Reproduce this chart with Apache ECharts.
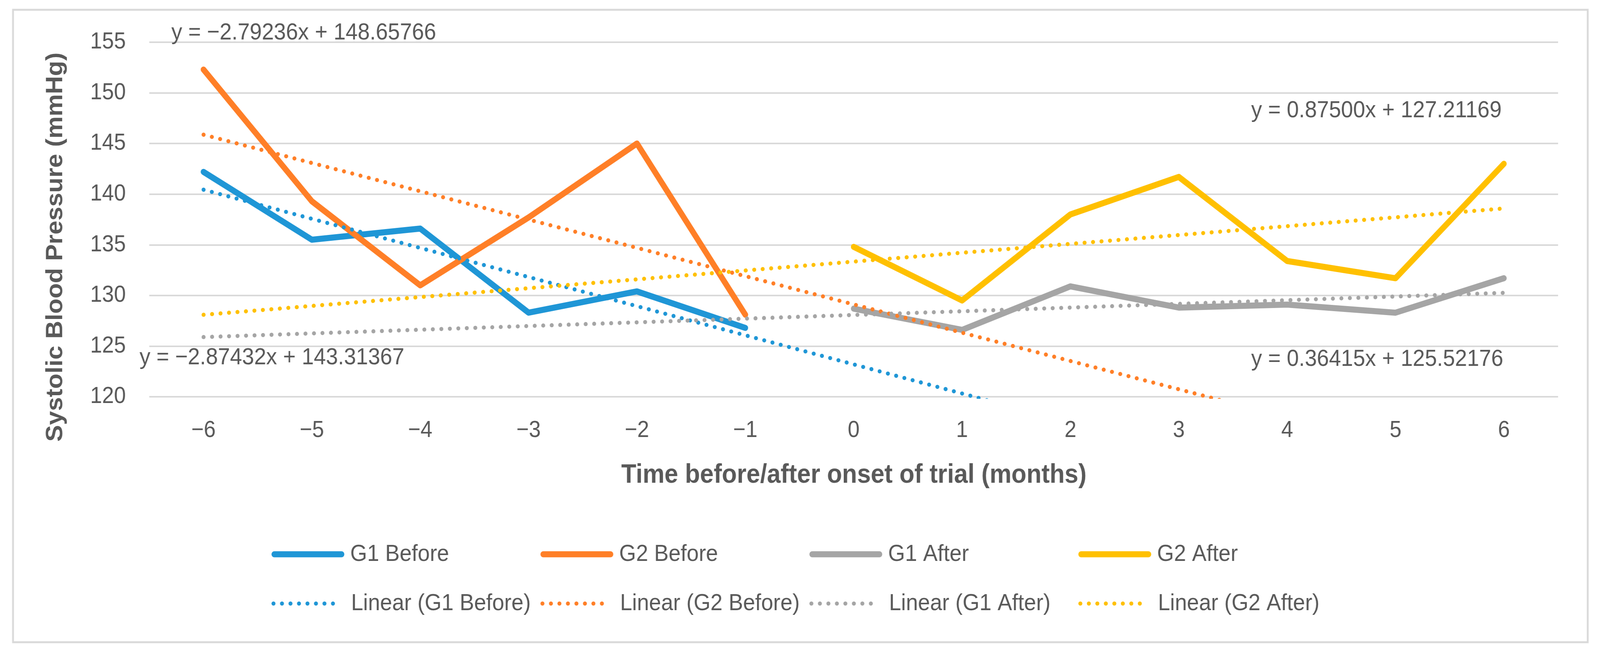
<!DOCTYPE html>
<html>
<head>
<meta charset="utf-8">
<script src="https://cdn.jsdelivr.net/npm/echarts@6/dist/echarts.min.js"></script>
<style>
html,body{margin:0;padding:0;background:#ffffff;overflow:hidden;}
#c{width:4426px;height:1668px;transform-origin:0 0;}
</style>
</head>
<body>
<div id="c"></div>
<script>
// ---- data ----
const months = ['−6','−5','−4','−3','−2','−1','0','1','2','3','4','5','6'];
const yTicks = [120, 125, 130, 135, 140, 145, 150, 155];
const seriesNames = ['G1 Before', 'G2 Before', 'G1 After', 'G2 After'];
const trendNames = ['Linear (G1 Before)', 'Linear (G2 Before)', 'Linear (G1 After)', 'Linear (G2 After)'];
const g1Before = [142.2, 135.5, 136.6, 128.3, 130.4, 126.8, null, null, null, null, null, null, null];
const g2Before = [152.3, 139.3, 131.0, 137.7, 145.0, 128.1, null, null, null, null, null, null, null];
const g1After  = [null, null, null, null, null, null, 128.7, 126.6, 130.9, 128.8, 129.1, 128.3, 131.7];
const g2After  = [null, null, null, null, null, null, 134.8, 129.5, 138.0, 141.7, 133.4, 131.7, 143.0];
// trendline values at the first (−6) and last (6) month
const trendStart = [140.44, 145.87, 125.89, 128.09];
const trendEnd   = [105.95, 112.36, 130.26, 138.59];
const equations = [
  'y = −2.87432x + 143.31367',
  'y = −2.79236x + 148.65766',
  'y = 0.36415x + 125.52176',
  'y = 0.87500x + 127.21169'
];
const xTitle = 'Time before/after onset of trial (months)';
const yTitle = 'Systolic Blood Pressure (mmHg)';

// ---- fit the 4426 x 1668 design to the actual window ----
const W0 = 4426, H0 = 1668;
const el = document.getElementById('c');
const sx = window.innerWidth / W0, sy = window.innerHeight / H0;
el.style.transform = 'scale(' + sx + ',' + sy + ')';

// ---- styling ----
const colors = ['#1F96D6', '#FF7F27', '#A5A5A5', '#FFC000'];
const textColor = '#595959';
const gridColor = '#D9D9D9';
const FONT = '"Liberation Sans", Arial, sans-serif';
const dotPattern = [0.5, 23];

const mainData = [g1Before, g2Before, g1After, g2After];

const series = [];
mainData.forEach((d, i) => {
  series.push({
    name: seriesNames[i], type: 'line', data: d, symbol: 'none',
    connectNulls: false, z: 2, silent: true,
    itemStyle: { color: colors[i] },
    lineStyle: { color: colors[i], width: 15.5, cap: 'round', join: 'round' }
  });
});
trendNames.forEach((n, i) => {
  const d = months.map((m, j) => j === 0 ? trendStart[i] : (j === months.length - 1 ? trendEnd[i] : null));
  series.push({
    name: n, type: 'line', data: d, symbol: 'none', connectNulls: true, z: 3, silent: true,
    clip: true,
    itemStyle: { color: colors[i] },
    lineStyle: { color: colors[i], width: 10.5, type: dotPattern, cap: 'round' }
  });
});

const colLeft = [751, 1495, 2239, 2983];
const legends = [];
seriesNames.forEach((n, i) => {
  legends.push({
    data: [n], left: colLeft[i], top: 1388, padding: 0, selectedMode: false,
    itemWidth: 186, itemHeight: 16,
    itemStyle: { opacity: 0, borderWidth: 0 },
    lineStyle: { width: 15.5, cap: 'round' },
    textStyle: { fontSize: 60, fontFamily: FONT, color: textColor, lineHeight: 60, padding: [0, 0, 0, 19] }
  });
});
trendNames.forEach((n, i) => {
  legends.push({
    data: [n], left: colLeft[i], top: 1514, padding: 0, selectedMode: false,
    itemWidth: 186, itemHeight: 16,
    itemStyle: { opacity: 0, borderWidth: 0 },
    lineStyle: { width: 10.5, cap: 'round', type: dotPattern },
    textStyle: { fontSize: 60, fontFamily: FONT, color: textColor, lineHeight: 60, padding: [0, 0, 0, 24] }
  });
});

function txt(text, x, y, size, weight, align, rot) {
  return {
    type: 'text', x: x, y: y, rotation: rot || 0, silent: true, z: 10,
    style: {
      text: text, fontSize: size, fontFamily: FONT, fontWeight: weight, fill: textColor,
      align: align, verticalAlign: 'middle', textAlign: align, textVerticalAlign: 'middle'
    }
  };
}
const eqPos = [[386, 915], [474, 84], [3461, 919], [3461, 283]];
const graphics = [
  { type: 'rect', silent: true, z: 0,
    shape: { x: 36, y: 25, width: 4356, height: 1618 },
    style: { fill: 'none', stroke: gridColor, lineWidth: 5 } },
  txt(xTitle, 2362, 1216, 68, 'bold', 'center'),
  txt(yTitle, 154, 632, 64, 'bold', 'center', Math.PI / 2)
];
equations.forEach((e, i) => graphics.push(txt(e, eqPos[i][0], eqPos[i][1], 60, 'normal', 'left')));

const chart = echarts.init(el, null, { renderer: 'canvas', width: W0, height: H0 });
chart.setOption({
  backgroundColor: '#ffffff',
  animation: false,
  color: colors,
  grid: { left: 413, right: 116, top: 108, bottom: 653, containLabel: false, outerBoundsMode: 'none' },
  xAxis: {
    type: 'category', data: months, boundaryGap: true,
    axisLine: { show: false }, axisTick: { show: false }, splitLine: { show: false },
    axisLabel: { color: textColor, fontSize: 59, fontFamily: FONT, margin: 57, lineHeight: 60, interval: 0 }
  },
  yAxis: {
    type: 'value', min: yTicks[0], max: yTicks[yTicks.length - 1], interval: 5,
    axisLine: { show: false }, axisTick: { show: false },
    splitLine: { show: true, lineStyle: { color: gridColor, width: 4 } },
    axisLabel: { color: textColor, fontSize: 59, fontFamily: FONT, margin: 65 }
  },
  legend: legends,
  series: series,
  graphic: graphics
});
</script>
</body>
</html>
